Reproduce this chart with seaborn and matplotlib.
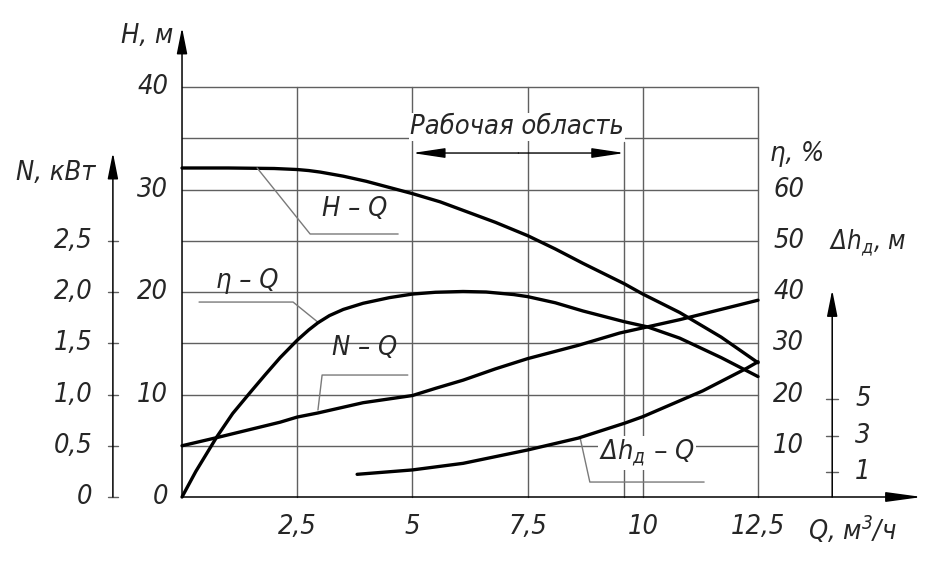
import matplotlib
matplotlib.use("Agg")
import matplotlib.pyplot as plt
import seaborn as sns

# Характеристики насоса
q_h = [0, 1.0, 1.6, 2.0, 2.5, 2.75, 3.0, 3.5, 4.0, 4.5, 5.0, 5.6, 6.2, 6.8, 7.5, 8.1, 8.7,
       9.6, 10.0, 10.8, 11.7, 12.5]
h_vals = [32.1, 32.1, 32.07, 32.05, 31.95, 31.85, 31.7, 31.3, 30.8, 30.2, 29.6, 28.8, 27.8,
          26.8, 25.5, 24.2, 22.8, 20.8, 19.8, 18.0, 15.6, 13.1]

q_eta = [0, 0.3, 0.76, 1.1, 1.47, 1.8, 2.13, 2.5, 2.75, 2.95, 3.2, 3.5, 3.93, 4.5, 5.0, 5.5,
         6.1, 6.6, 7.2, 7.5, 8.1, 8.7, 9.6, 10.1, 10.8, 11.7, 12.5]
eta_vals = [0, 5.0, 11.8, 16.3, 20.3, 23.8, 27.2, 30.6, 32.6, 34.0, 35.4, 36.6, 37.8, 38.9,
            39.6, 39.95, 40.1, 40.0, 39.5, 39.1, 37.9, 36.3, 34.2, 33.2, 31.0, 27.2, 23.5]

q_n = [0, 0.76, 2.13, 2.5, 2.95, 3.93, 5.0, 5.5, 6.1, 6.8, 7.5, 8.6, 9.5, 10.1, 10.8, 12.5]
n_vals = [0.50, 0.58, 0.73, 0.78, 0.82, 0.92, 0.99, 1.06, 1.14, 1.25, 1.35, 1.48, 1.60, 1.66,
          1.73, 1.92]

q_dh = [3.8, 5.0, 6.1, 7.5, 8.6, 9.6, 10.0, 11.3, 12.25, 12.5]
dh_vals = [0.89, 1.13, 1.49, 2.22, 2.87, 3.68, 4.04, 5.45, 6.68, 7.04]

q_ticks = [2.5, 5, 7.5, 10, 12.5]
q_labels = ["2,5", "5", "7,5", "10", "12,5"]
h_ticks = [0, 10, 20, 30, 40]
eta_ticks = [10, 20, 30, 40, 50, 60]
n_ticks = [0, 0.5, 1.0, 1.5, 2.0, 2.5]
n_labels = ["0", "0,5", "1,0", "1,5", "2,0", "2,5"]
dh_ticks = [1, 3, 5]
work_zone = (5.0, 9.6)

sns.set_theme(style="white")
plt.rcParams["font.family"] = ["DejaVu Sans"]
plt.rcParams["font.stretch"] = "condensed"
plt.rcParams["font.style"] = "italic"
plt.rcParams["font.weight"] = "light"
plt.rcParams["mathtext.fontset"] = "dejavusans"

FS = 19.5
TXT = "#262626"
GRID = "#606060"
LEAD = "#7a7a7a"

fig = plt.figure(figsize=(9.44, 5.66), dpi=100)
ax = fig.add_axes([0, 0, 1, 1])
ax.set_xlim(-3.95, 16.536)
ax.set_ylim(-6.732, 48.49)
ax.axis("off")

# дополнительные шкалы: КПД, мощность, кавитационный запас
ax_eta = ax.twinx()
ax_eta.set_ylim(-6.732 * 2, 48.49 * 2)
ax_n = ax.twinx()
ax_n.set_ylim(-0.6732, 4.849)
ax_dh = ax.twinx()
ax_dh.set_ylim(-4.12, 26.81)
for a in (ax_eta, ax_n, ax_dh):
    a.set_position([0, 0, 1, 1])
    a.axis("off")


def arrow(a, start, end, style="-|>", hl=1.6, hw=0.32, lw=1.1):
    a.annotate("", xy=end, xytext=start,
               arrowprops=dict(arrowstyle=f"{style},head_length={hl},head_width={hw}",
                               color="black", lw=lw, mutation_scale=10,
                               shrinkA=0, shrinkB=0))


# сетка
for h in range(5, 45, 5):
    ax.plot([0, 12.5], [h, h], color=GRID, lw=1.0, zorder=1)
for q in q_ticks:
    ax.plot([q, q], [0, 40], color=GRID, lw=1.0, zorder=1)

# оси H и Q
arrow(ax, (0, 0), (0, 45.8))
arrow(ax, (0, 0), (16.06, 0), hl=2.2, hw=0.3)
ax.text(-0.2, 45.0, "H, м", fontsize=FS, color=TXT, ha="right", va="center")
for h in h_ticks:
    ax.text(-0.3, h, str(h), fontsize=FS, color=TXT, ha="right", va="center")
for q, lab in zip(q_ticks, q_labels):
    ax.text(q, -2.9, lab, fontsize=FS, color=TXT, ha="center", va="center")
ax.text(14.55, -3.2, "Q, м$^3$/ч", fontsize=FS, color=TXT, ha="center", va="center")

# ось N
n_x = -1.5
arrow(ax_n, (n_x, 0), (n_x, 3.36))
for v, lab in zip(n_ticks, n_labels):
    ax_n.plot([n_x - 0.11, n_x + 0.11], [v, v], color=GRID, lw=1.0)
    ax_n.text(n_x - 0.45, v, lab, fontsize=FS, color=TXT, ha="right", va="center")
ax_n.text(-1.88, 3.16, "N, кВт", fontsize=FS, color=TXT, ha="right", va="center")

# ось КПД (по правой границе сетки)
for v in eta_ticks:
    ax_eta.text(12.83, v, str(v), fontsize=FS, color=TXT, ha="left", va="center")
ax_eta.text(12.76, 67.0, "η, %", fontsize=FS, color=TXT, ha="left", va="center")

# ось Δh
dh_x = 14.11
arrow(ax_dh, (dh_x, -0.35), (dh_x, 10.96))
for v in dh_ticks:
    ax_dh.plot([dh_x - 0.13, dh_x + 0.13], [v, v], color=GRID, lw=1.0)
    ax_dh.text(dh_x + 0.5, v, str(v), fontsize=FS, color=TXT, ha="left", va="center")
ax.text(14.04, 24.8, "Δh$_д$, м", fontsize=FS - 1, color=TXT, ha="left", va="center")

# рабочая область
ax.plot([work_zone[1]] * 2, [0, 34.6], color=GRID, lw=1.0, zorder=1)
arrow(ax, (sum(work_zone) / 2, 33.56), (work_zone[0], 33.56), hl=2.0, hw=0.3, lw=1.0)
arrow(ax, (sum(work_zone) / 2, 33.56), (work_zone[1], 33.56), hl=2.0, hw=0.3, lw=1.0)
ax.text(7.27, 36.1, "Рабочая область", fontsize=FS, color=TXT, ha="center", va="center",
        zorder=3, bbox=dict(facecolor="white", edgecolor="none", pad=1))

# кривые
kw = dict(color="black", linewidth=2.4, legend=False)
sns.lineplot(x=q_h, y=h_vals, ax=ax, **kw)
sns.lineplot(x=q_eta, y=eta_vals, ax=ax_eta, **kw)
sns.lineplot(x=q_n, y=n_vals, ax=ax_n, **kw)
sns.lineplot(x=q_dh, y=dh_vals, ax=ax_dh, **kw)
for a in (ax, ax_eta, ax_n, ax_dh):
    for ln in a.lines[-1:]:
        ln.set_solid_joinstyle("round")
        ln.set_solid_capstyle("round")

# подписи кривых с выносками
ax.plot([1.63, 2.78, 4.69], [32.1, 25.66, 25.66], color=LEAD, lw=1.0, zorder=2)
ax.text(3.74, 28.1, "H – Q", fontsize=FS, color=TXT, ha="center", va="center")

ax.plot([0.37, 2.41, 2.97], [19.02, 19.02, 16.98], color=LEAD, lw=1.0, zorder=2)
ax.text(1.41, 21.07, "η – Q", fontsize=FS, color=TXT, ha="center", va="center")

ax.plot([2.95, 3.04, 4.90], [8.49, 11.9, 11.9], color=LEAD, lw=1.0, zorder=2)
ax.text(3.97, 14.5, "N – Q", fontsize=FS, color=TXT, ha="center", va="center")

ax.plot([8.64, 8.85, 11.33], [5.76, 1.46, 1.46], color=LEAD, lw=1.0, zorder=2)
ax.text(10.09, 4.3, "Δh$_д$ – Q", fontsize=FS, color=TXT, ha="center", va="center",
        zorder=3, bbox=dict(facecolor="white", edgecolor="none", pad=1))

fig.savefig("out.png", dpi=100, facecolor="white")
